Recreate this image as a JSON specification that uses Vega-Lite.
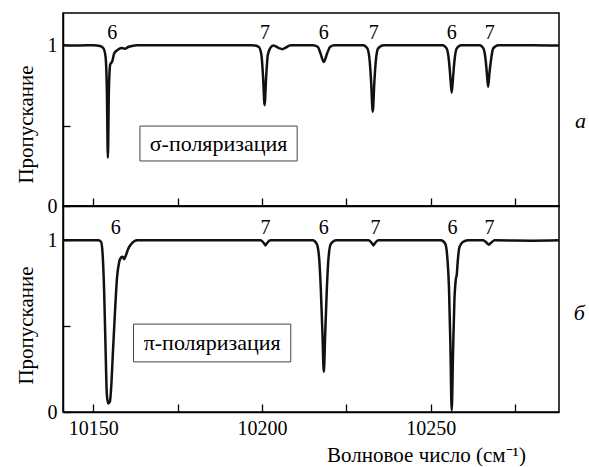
{
  "$schema": "https://vega.github.io/schema/vega-lite/v6.json",
  "padding": {"left": 14, "top": 12, "right": 0, "bottom": 0},
  "background": "white",
  "config": {
    "font": "Liberation Serif",
    "view": {"stroke": "#000", "strokeWidth": 1.5},
    "axis": {"grid": false, "labelFontSize": 20, "labelColor": "#000", "titleFontSize": 21, "titleFontWeight": "normal", "titleColor": "#000", "tickColor": "#000", "tickWidth": 1.3, "domainColor": "#000", "domainWidth": 1.5, "labelFont": "Liberation Serif", "titleFont": "Liberation Serif"}
  },
  "datasets": {
    "spec": [
      {"p":"s","x":10141,"y":1.0},{"p":"s","x":10146,"y":0.998},{"p":"s","x":10150,"y":1.0},{"p":"s","x":10152,"y":0.995},{"p":"s","x":10153,"y":0.98},{"p":"s","x":10153.6,"y":0.93},{"p":"s","x":10154.0,"y":0.72},{"p":"s","x":10154.3,"y":0.30},{"p":"s","x":10154.6,"y":0.72},{"p":"s","x":10155.0,"y":0.88},{"p":"s","x":10155.6,"y":0.90},{"p":"s","x":10156.2,"y":0.95},{"p":"s","x":10157.5,"y":0.975},{"p":"s","x":10158.5,"y":0.982},{"p":"s","x":10159.3,"y":0.978},{"p":"s","x":10160.5,"y":0.99},{"p":"s","x":10163,"y":1.0},{"p":"s","x":10180,"y":1.0},{"p":"s","x":10197,"y":1.0},{"p":"s","x":10199,"y":0.99},{"p":"s","x":10199.8,"y":0.94},{"p":"s","x":10200.3,"y":0.80},{"p":"s","x":10200.75,"y":0.627},{"p":"s","x":10201.2,"y":0.80},{"p":"s","x":10201.7,"y":0.94},{"p":"s","x":10202.5,"y":0.985},{"p":"s","x":10203.3,"y":0.998},{"p":"s","x":10205,"y":0.982},{"p":"s","x":10206,"y":0.975},{"p":"s","x":10207,"y":0.985},{"p":"s","x":10208.5,"y":1.0},{"p":"s","x":10215,"y":1.0},{"p":"s","x":10216.5,"y":0.99},{"p":"s","x":10217.3,"y":0.95},{"p":"s","x":10218.3,"y":0.896},{"p":"s","x":10219.3,"y":0.95},{"p":"s","x":10220.2,"y":0.99},{"p":"s","x":10221.5,"y":1.0},{"p":"s","x":10230,"y":1.0},{"p":"s","x":10231.2,"y":0.98},{"p":"s","x":10231.9,"y":0.9},{"p":"s","x":10232.3,"y":0.78},{"p":"s","x":10232.8,"y":0.586},{"p":"s","x":10233.3,"y":0.78},{"p":"s","x":10233.7,"y":0.9},{"p":"s","x":10234.4,"y":0.98},{"p":"s","x":10236,"y":1.0},{"p":"s","x":10245,"y":1.0},{"p":"s","x":10253.5,"y":1.0},{"p":"s","x":10254.7,"y":0.98},{"p":"s","x":10255.4,"y":0.9},{"p":"s","x":10255.8,"y":0.8},{"p":"s","x":10256.2,"y":0.704},{"p":"s","x":10256.6,"y":0.8},{"p":"s","x":10257.0,"y":0.9},{"p":"s","x":10257.7,"y":0.98},{"p":"s","x":10259,"y":1.0},{"p":"s","x":10264.5,"y":1.0},{"p":"s","x":10265.6,"y":0.98},{"p":"s","x":10266.3,"y":0.9},{"p":"s","x":10266.6,"y":0.83},{"p":"s","x":10267.0,"y":0.741},{"p":"s","x":10267.4,"y":0.83},{"p":"s","x":10267.8,"y":0.9},{"p":"s","x":10268.5,"y":0.98},{"p":"s","x":10270,"y":1.0},{"p":"s","x":10280,"y":1.0},{"p":"s","x":10288,"y":0.998},
      {"p":"p","x":10141,"y":1.0},{"p":"p","x":10151.5,"y":1.0},{"p":"p","x":10152.3,"y":0.99},{"p":"p","x":10152.8,"y":0.9},{"p":"p","x":10153.2,"y":0.7},{"p":"p","x":10153.6,"y":0.38},{"p":"p","x":10154.0,"y":0.1},{"p":"p","x":10154.4,"y":0.05},{"p":"p","x":10154.9,"y":0.06},{"p":"p","x":10155.3,"y":0.15},{"p":"p","x":10155.8,"y":0.35},{"p":"p","x":10156.4,"y":0.58},{"p":"p","x":10157.0,"y":0.78},{"p":"p","x":10157.6,"y":0.87},{"p":"p","x":10158.2,"y":0.9},{"p":"p","x":10158.7,"y":0.905},{"p":"p","x":10159.1,"y":0.89},{"p":"p","x":10159.6,"y":0.91},{"p":"p","x":10160.3,"y":0.95},{"p":"p","x":10161.3,"y":0.98},{"p":"p","x":10163,"y":1.0},{"p":"p","x":10180,"y":1.0},{"p":"p","x":10199.5,"y":1.0},{"p":"p","x":10200.5,"y":0.985},{"p":"p","x":10201,"y":0.97},{"p":"p","x":10201.5,"y":0.985},{"p":"p","x":10202.5,"y":1.0},{"p":"p","x":10215,"y":1.0},{"p":"p","x":10216.2,"y":0.98},{"p":"p","x":10216.9,"y":0.9},{"p":"p","x":10217.4,"y":0.72},{"p":"p","x":10217.9,"y":0.45},{"p":"p","x":10218.3,"y":0.234},{"p":"p","x":10218.7,"y":0.45},{"p":"p","x":10219.2,"y":0.72},{"p":"p","x":10219.7,"y":0.9},{"p":"p","x":10220.4,"y":0.98},{"p":"p","x":10222,"y":1.0},{"p":"p","x":10231.5,"y":1.0},{"p":"p","x":10232.5,"y":0.985},{"p":"p","x":10233,"y":0.97},{"p":"p","x":10233.5,"y":0.985},{"p":"p","x":10234.5,"y":1.0},{"p":"p","x":10253,"y":1.0},{"p":"p","x":10254.3,"y":0.98},{"p":"p","x":10254.9,"y":0.9},{"p":"p","x":10255.4,"y":0.72},{"p":"p","x":10255.8,"y":0.4},{"p":"p","x":10256.2,"y":0.01},{"p":"p","x":10256.6,"y":0.35},{"p":"p","x":10257.0,"y":0.65},{"p":"p","x":10257.4,"y":0.77},{"p":"p","x":10257.7,"y":0.80},{"p":"p","x":10258.0,"y":0.88},{"p":"p","x":10258.5,"y":0.96},{"p":"p","x":10259.5,"y":0.99},{"p":"p","x":10261,"y":1.0},{"p":"p","x":10265.5,"y":1.0},{"p":"p","x":10266.6,"y":0.985},{"p":"p","x":10267.2,"y":0.975},{"p":"p","x":10267.8,"y":0.985},{"p":"p","x":10269,"y":1.0},{"p":"p","x":10280,"y":0.998},{"p":"p","x":10288,"y":1.0}
    ],
    "labels": [
      {"p":"s","x":10155.6,"y":1.075,"t":"6"},{"p":"s","x":10200.9,"y":1.075,"t":"7"},{"p":"s","x":10218.3,"y":1.075,"t":"6"},{"p":"s","x":10233.1,"y":1.075,"t":"7"},{"p":"s","x":10256.2,"y":1.075,"t":"6"},{"p":"s","x":10267.5,"y":1.075,"t":"7"},
      {"p":"p","x":10156.6,"y":1.07,"t":"6"},{"p":"p","x":10201,"y":1.07,"t":"7"},{"p":"p","x":10218.3,"y":1.07,"t":"6"},{"p":"p","x":10233.6,"y":1.07,"t":"7"},{"p":"p","x":10256.4,"y":1.07,"t":"6"},{"p":"p","x":10267.4,"y":1.07,"t":"7"}
    ],
    "boxes": [
      {"p":"s","x":10163.8,"x2":10210.4,"y":0.28,"y2":0.497,"xc":10187.1,"yc":0.383,"t":"σ-поляризация"},
      {"p":"p","x":10161.9,"x2":10208.5,"y":0.292,"y2":0.512,"xc":10185.2,"yc":0.40,"t":"π-поляризация"}
    ],
    "letters": [
      {"p":"s","x":10294.4,"y":0.528,"t":"а"},
      {"p":"p","x":10294.0,"y":0.576,"t":"б"}
    ]
  },
  "spacing": 0,
  "bounds": "flush",
  "vconcat": [
    {
      "width": 496,
      "height": 193,
      "encoding": {
        "x": {"field": "x", "type": "quantitative", "scale": {"domain": [10141, 10288], "nice": false, "zero": false},
          "axis": {"title": null, "labels": false, "values": [10150, 10175, 10200, 10225, 10250, 10275], "tickSize": -8, "domain": true}},
        "y": {"field": "y", "type": "quantitative", "scale": {"domain": [0, 1.2], "nice": false, "zero": false},
          "axis": {"title": "Пропускание", "labelFont": "Liberation Serif", "titleFont": "Liberation Serif", "values": [0, 0.5, 1], "labelExpr": "datum.value == 0.5 ? '' : format(datum.value, 'd')", "tickSize": -7, "labelPadding": 13, "titleX": -37, "titleY": 111, "titleBaseline": "middle", "titleAlign": "center"}}
      },
      "layer": [
        {"data": {"name": "boxes"}, "transform": [{"filter": "datum.p == 's'"}],
         "mark": {"type": "rect", "fill": "white", "stroke": "#444", "strokeWidth": 1},
         "encoding": {"x2": {"field": "x2"}, "y2": {"field": "y2"}}},
        {"data": {"name": "boxes"}, "transform": [{"filter": "datum.p == 's'"}],
         "mark": {"type": "text", "font": "Liberation Serif", "fontSize": 22, "color": "#000", "baseline": "middle", "align": "center"},
         "encoding": {"x": {"field": "xc", "type": "quantitative"}, "y": {"field": "yc", "type": "quantitative"}, "text": {"field": "t"}}},
        {"data": {"name": "spec"}, "transform": [{"filter": "datum.p == 's'"}],
         "mark": {"type": "line", "color": "#111", "strokeWidth": 2.5, "interpolate": "monotone"}},
        {"data": {"name": "labels"}, "transform": [{"filter": "datum.p == 's'"}],
         "mark": {"type": "text", "font": "Liberation Serif", "fontSize": 20, "color": "#000", "baseline": "middle", "align": "center"},
         "encoding": {"text": {"field": "t"}}},
        {"data": {"name": "letters"}, "transform": [{"filter": "datum.p == 's'"}],
         "mark": {"type": "text", "font": "Liberation Serif", "fontSize": 22, "fontStyle": "italic", "color": "#000", "baseline": "middle", "align": "center"},
         "encoding": {"text": {"field": "t"}}}
      ]
    },
    {
      "width": 496,
      "height": 206,
      "encoding": {
        "x": {"field": "x", "type": "quantitative", "scale": {"domain": [10141, 10288], "nice": false, "zero": false},
          "axis": {"title": "Волновое число (см⁻¹)", "labelFont": "Liberation Serif", "titleFont": "Liberation Serif", "titleFontSize": 21, "values": [10150, 10175, 10200, 10225, 10250, 10275], "labelExpr": "datum.value % 50 == 0 ? format(datum.value, 'd') : ''", "tickSize": -8, "labelPadding": 14, "titleX": 363, "titleY": 43, "titleBaseline": "middle", "titleAlign": "center"}},
        "y": {"field": "y", "type": "quantitative", "scale": {"domain": [0, 1.2], "nice": false, "zero": false},
          "axis": {"title": "Пропускание", "labelFont": "Liberation Serif", "titleFont": "Liberation Serif", "values": [0, 0.5, 1], "labelExpr": "datum.value == 0.5 ? '' : format(datum.value, 'd')", "tickSize": -7, "labelPadding": 13, "titleX": -37, "titleY": 119, "titleBaseline": "middle", "titleAlign": "center"}}
      },
      "layer": [
        {"data": {"name": "boxes"}, "transform": [{"filter": "datum.p == 'p'"}],
         "mark": {"type": "rect", "fill": "white", "stroke": "#444", "strokeWidth": 1},
         "encoding": {"x2": {"field": "x2"}, "y2": {"field": "y2"}}},
        {"data": {"name": "boxes"}, "transform": [{"filter": "datum.p == 'p'"}],
         "mark": {"type": "text", "font": "Liberation Serif", "fontSize": 22, "color": "#000", "baseline": "middle", "align": "center"},
         "encoding": {"x": {"field": "xc", "type": "quantitative"}, "y": {"field": "yc", "type": "quantitative"}, "text": {"field": "t"}}},
        {"data": {"name": "spec"}, "transform": [{"filter": "datum.p == 'p'"}],
         "mark": {"type": "line", "color": "#111", "strokeWidth": 2.5, "interpolate": "monotone"}},
        {"data": {"name": "labels"}, "transform": [{"filter": "datum.p == 'p'"}],
         "mark": {"type": "text", "font": "Liberation Serif", "fontSize": 20, "color": "#000", "baseline": "middle", "align": "center"},
         "encoding": {"text": {"field": "t"}}},
        {"data": {"name": "letters"}, "transform": [{"filter": "datum.p == 'p'"}],
         "mark": {"type": "text", "font": "Liberation Serif", "fontSize": 22, "fontStyle": "italic", "color": "#000", "baseline": "middle", "align": "center"},
         "encoding": {"text": {"field": "t"}}}
      ]
    }
  ]
}
